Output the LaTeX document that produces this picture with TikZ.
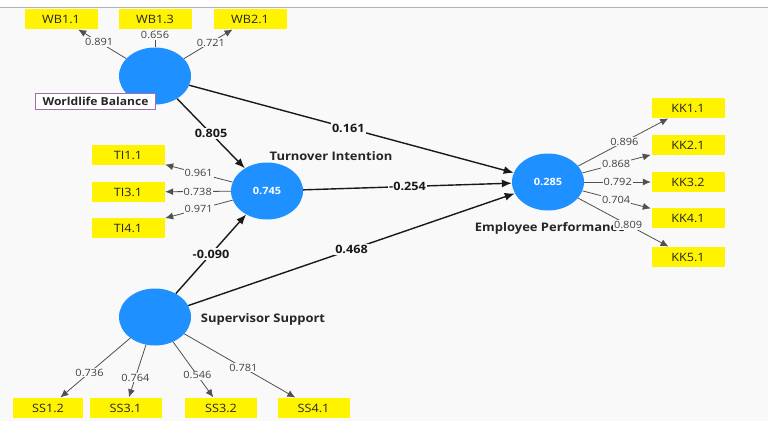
\documentclass[tikz,border=0pt]{standalone}
\usepackage{fontspec}
\setmainfont{Open Sans}[FakeStretch=1.1]
\usetikzlibrary{shapes.geometric,arrows.meta}
\definecolor{bg}{RGB}{249,249,249}
\definecolor{lvblue}{RGB}{30,144,255}
\definecolor{indyellow}{RGB}{255,243,0}
\definecolor{loadgray}{RGB}{80,80,80}
\definecolor{labbox}{RGB}{160,110,170}
\begin{document}
\begin{tikzpicture}[x=1pt,y=-1pt,
  lvnode/.style={ellipse, fill=lvblue, draw=none, minimum width=72pt, minimum height=57pt, inner sep=0pt, text=white, font=\fontsize{10}{12}\selectfont\bfseries},
  indbox/.style={rectangle, fill=indyellow, draw=none, minimum width=73pt, minimum height=20pt, inner sep=0pt, font=\fontsize{11.5}{13}\selectfont, text=black!85},
  lvname/.style={font=\fontsize{11.8}{13}\selectfont\bfseries, text=black!85, inner sep=0pt},
  loadline/.style={draw=loadgray, line width=0.8pt, -{Latex[length=8pt,width=7pt]}, shorten >=0.5pt},
  loadlbl/.style={fill=bg, inner sep=1pt, font=\fontsize{10}{11}\selectfont, text=black!75},
  pathline/.style={draw=black!90, line width=1.4pt, -{Latex[length=10pt,width=8pt]}},
  pathlbl/.style={fill=bg, inner sep=1.5pt, font=\fontsize{11.5}{13}\selectfont\bfseries, text=black!90}
]
\useasboundingbox (0,0) rectangle (768,421);
\fill[white] (0,0) rectangle (768,421);
\fill[bg] (0,8) rectangle (768,421);
\draw[black!30, line width=1pt] (0,7.5) -- (768,7.5);

% latent variables
\node[lvnode] (wb) at (155,76) {};
\node[lvnode] (ti) at (267,191) {0.745};
\node[lvnode] (ep) at (548,182) {0.285};
\node[lvnode] (ss) at (155,317) {};

% indicators
\node[indbox] (wb11) at (61,19) {WB1.1};
\node[indbox] (wb13) at (155,19) {WB1.3};
\node[indbox] (wb21) at (250,19) {WB2.1};
\node[indbox] (ti11) at (128,155) {TI1.1};
\node[indbox] (ti31) at (128,192) {TI3.1};
\node[indbox] (ti41) at (128,228) {TI4.1};
\node[indbox] (kk11) at (688,108) {KK1.1};
\node[indbox] (kk21) at (688,145) {KK2.1};
\node[indbox] (kk32) at (688,182) {KK3.2};
\node[indbox] (kk41) at (688,218) {KK4.1};
\node[indbox] (kk51) at (688,257) {KK5.1};
\node[indbox, minimum width=70pt] (ss12) at (48,408) {SS1.2};
\node[indbox, minimum width=72pt] (ss31) at (125.5,408) {SS3.1};
\node[indbox, minimum width=72pt] (ss32) at (221,408) {SS3.2};
\node[indbox, minimum width=72pt] (ss41) at (313.5,408) {SS4.1};

% names of latent variables
\node[lvname] (tiname) at (331,156) {Turnover Intention};
\node[lvname] (epname) at (550,228) {Employee Performance};
\node[lvname] (ssname) at (263,319) {Supervisor Support};

% outer loadings
\draw[loadline] (wb) -- node[loadlbl, pos=0.56] {0.891} (wb11);
\draw[loadline] (wb) -- node[loadlbl, pos=0.66] {0.656} (wb13);
\draw[loadline] (wb) -- node[loadlbl, pos=0.55] {0.721} (wb21);
\draw[loadline] (ti) -- node[loadlbl, pos=0.5] {0.961} (ti11);
\draw[loadline] (ti) -- node[loadlbl, pos=0.5] {0.738} (ti31);
\draw[loadline] (ti) -- node[loadlbl, pos=0.5] {0.971} (ti41);
\draw[loadline] (ep) -- node[loadlbl, pos=0.51] {0.896} (kk11);
\draw[loadline] (ep) -- node[loadlbl, pos=0.49] {0.868} (kk21);
\draw[loadline] (ep) -- node[loadlbl, pos=0.5] {0.792} (kk32);
\draw[loadline] (ep) -- node[loadlbl, pos=0.49] {0.704} (kk41);
\draw[loadline] (ep) -- node[loadlbl, pos=0.55] {0.809} (kk51);
\draw[loadline] (ss) -- node[loadlbl, pos=0.58] {0.736} (ss12);
\draw[loadline] (ss) -- node[loadlbl, pos=0.62] {0.764} (ss31);
\draw[loadline] (ss) -- node[loadlbl, pos=0.6] {0.546} (ss32);
\draw[loadline] (ss) -- node[loadlbl, pos=0.53] {0.781} (ss41);

% structural paths
\draw[pathline] (wb) -- node[pathlbl, pos=0.5] {0.805} (ti);
\draw[pathline] (ss) -- node[pathlbl, pos=0.5] {-0.090} (ti);
\draw[pathline] (wb) -- node[pathlbl, pos=0.49] {0.161} (ep);
\draw[pathline] (ti) -- node[pathlbl, pos=0.5] {-0.254} (ep);
\draw[pathline] (ss) -- node[pathlbl, pos=0.5] {0.468} (ep);

% boxed name label drawn over the circle
\node[draw=labbox, line width=0.8pt, fill=white, minimum width=120pt, minimum height=16pt, inner sep=0pt, font=\fontsize{11}{12}\selectfont\bfseries, text=black!85] (wbname) at (95.5,101) {Worldlife Balance};
\end{tikzpicture}
\end{document}
